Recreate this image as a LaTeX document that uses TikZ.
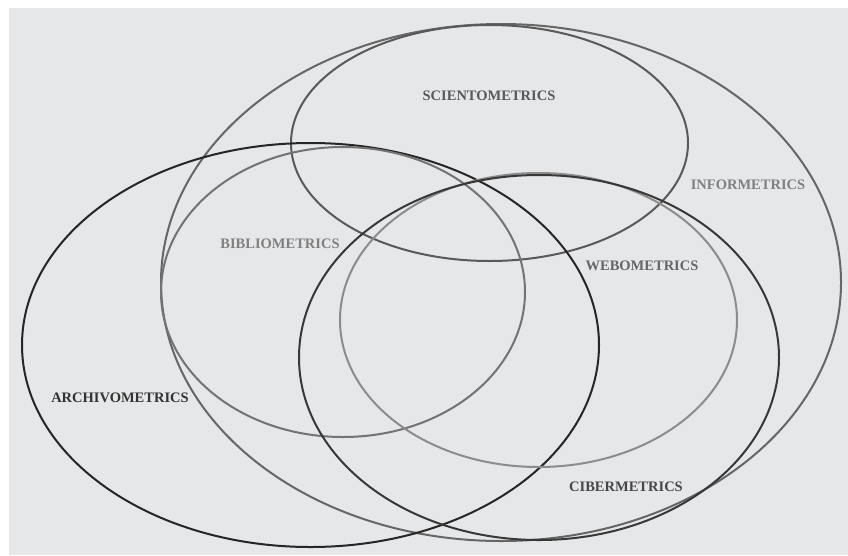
\documentclass[tikz,border=0pt]{standalone}
\usepackage{fontspec}
\setmainfont{Liberation Serif}
\usetikzlibrary{shapes.geometric}

\definecolor{paper}{HTML}{E6E7E9}
\tikzset{
  field/.style={ellipse,draw,line width=2pt,inner sep=0pt},
  fieldname/.style={font=\fontsize{14.5}{15}\selectfont\bfseries}
}

\begin{document}
\begin{tikzpicture}[x=1pt,y=-1pt]
  \useasboundingbox (0,0) rectangle (848,555);
  \fill[paper] (9,8) rectangle (848,555);

  % the six fields
  \node (info)  at (501,282.5) [field,draw=black!60,minimum width=680pt,minimum height=517pt] {};
  \node (scien) at (489.5,143) [field,draw=black!65,minimum width=397pt,minimum height=236pt] {};
  \node (arch)  at (310.5,345) [field,draw=black!85,minimum width=577pt,minimum height=404pt] {};
  \node (bib)   at (343,292)   [field,draw=black!55,minimum width=364pt,minimum height=290pt] {};
  \node (web)   at (538.5,320) [field,draw=black!45,minimum width=397pt,minimum height=294pt] {};
  \node (ciber) at (539,357.5) [field,draw=black!78,minimum width=480pt,minimum height=365pt] {};

  \node (scienlbl) at (489,96)  [fieldname,text=black!65] {SCIENTOMETRICS};
  \node (biblbl)   at (280,244) [fieldname,text=black!50] {BIBLIOMETRICS};
  \node (archlbl)  at (120,398) [fieldname,text=black!80] {ARCHIVOMETRICS};
  \node (weblbl)   at (642,266) [fieldname,text=black!60] {WEBOMETRICS};
  \node (infolbl)  at (748,185) [fieldname,text=black!50] {INFORMETRICS};
  \node (ciberlbl) at (626,487) [fieldname,text=black!72] {CIBERMETRICS};
\end{tikzpicture}
\end{document}
